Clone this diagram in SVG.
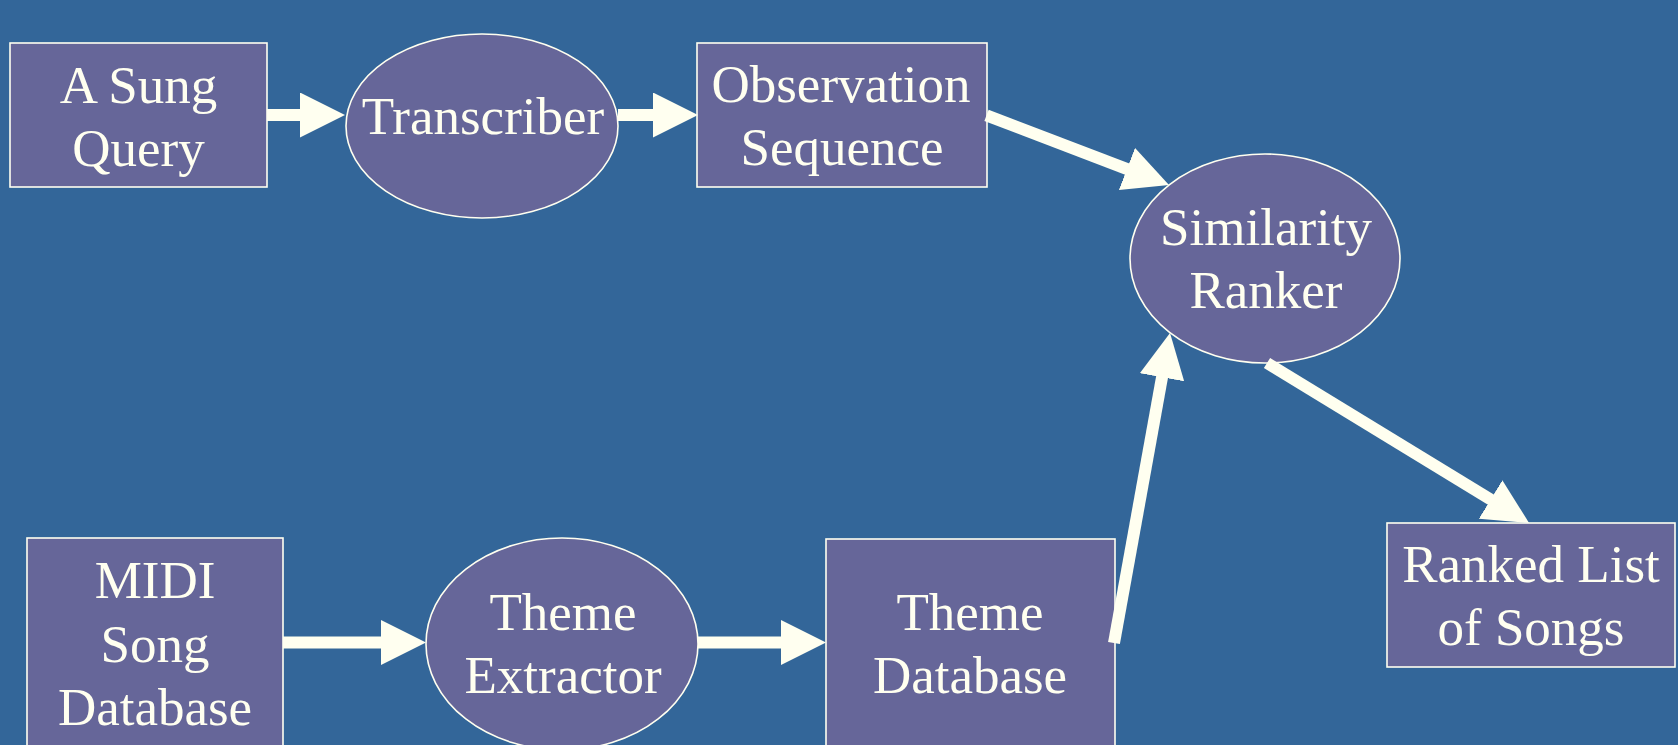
<svg xmlns="http://www.w3.org/2000/svg" width="1678" height="745" viewBox="0 0 1678 745">
  <style>
    .box { fill: #666699; stroke: #FFFFF0; stroke-width: 1.6; }
    .lbl { font-family: "Liberation Serif", "Times New Roman", serif; font-size: 53px; fill: #FFFFF0; text-anchor: middle; }
    .wire { stroke: #FFFFF0; stroke-width: 12; fill: none; marker-end: url(#head); }
  </style>
  <defs>
    <marker id="head" viewBox="0 0 45 45" refX="1" refY="22.5" markerWidth="45" markerHeight="45" markerUnits="userSpaceOnUse" orient="auto">
      <path d="M0,0 L45,22.5 L0,45 Z" fill="#FFFFF0"/>
    </marker>
  </defs>

  <rect width="1678" height="745" fill="#336699"/>

  <g id="sung-query">
    <rect class="box" x="10" y="43" width="257" height="144"/>
    <text class="lbl" x="138.5" y="103">A Sung</text>
    <text class="lbl" x="138.5" y="166">Query</text>
  </g>

  <g id="transcriber">
    <ellipse class="box" cx="482" cy="126" rx="136" ry="92"/>
    <text class="lbl" x="483" y="134">Transcriber</text>
  </g>

  <g id="observation-sequence">
    <rect class="box" x="697" y="43" width="290" height="144"/>
    <text class="lbl" x="841" y="102">Observation</text>
    <text class="lbl" x="842" y="165">Sequence</text>
  </g>

  <g id="similarity-ranker">
    <ellipse class="box" cx="1265" cy="258.5" rx="135" ry="104.5"/>
    <text class="lbl" x="1266" y="245">Similarity</text>
    <text class="lbl" x="1266" y="308">Ranker</text>
  </g>

  <g id="midi-database">
    <rect class="box" x="27" y="538" width="256" height="230"/>
    <text class="lbl" x="155" y="598">MIDI</text>
    <text class="lbl" x="155" y="662">Song</text>
    <text class="lbl" x="155" y="725">Database</text>
  </g>

  <g id="theme-extractor">
    <ellipse class="box" cx="562" cy="644" rx="136" ry="106"/>
    <text class="lbl" x="563" y="630">Theme</text>
    <text class="lbl" x="563" y="693">Extractor</text>
  </g>

  <g id="theme-database">
    <rect class="box" x="826" y="539" width="289" height="230"/>
    <text class="lbl" x="970" y="630">Theme</text>
    <text class="lbl" x="970" y="693">Database</text>
  </g>

  <g id="ranked-list">
    <rect class="box" x="1387" y="523" width="288" height="144"/>
    <text class="lbl" x="1531" y="582">Ranked List</text>
    <text class="lbl" x="1531" y="645">of Songs</text>
  </g>

  <g id="connectors">
    <line class="wire" x1="267" y1="115" x2="301" y2="115"/>
    <line class="wire" x1="618" y1="115" x2="654" y2="115"/>
    <line class="wire" x1="986.5" y1="115.3" x2="1127.9" y2="169.3"/>
    <line class="wire" x1="1114" y1="643" x2="1162.2" y2="376.3"/>
    <line class="wire" x1="1267" y1="363" x2="1491.5" y2="500"/>
    <line class="wire" x1="283" y1="642.5" x2="382" y2="642.5"/>
    <line class="wire" x1="698" y1="642.5" x2="782" y2="642.5"/>
  </g>
</svg>
